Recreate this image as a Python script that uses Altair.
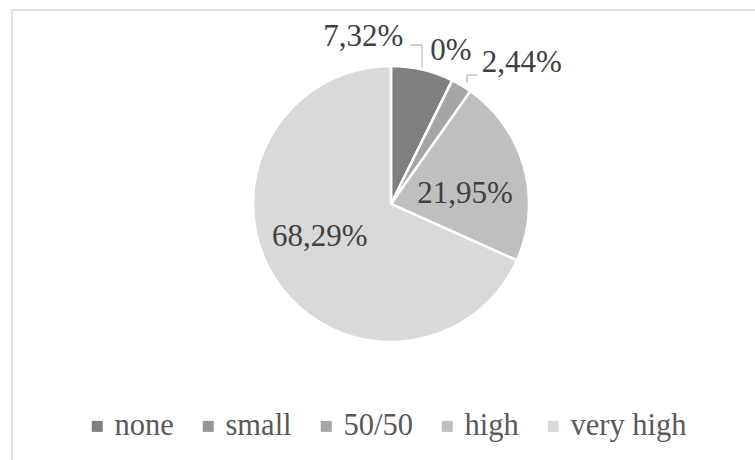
import altair as alt
import pandas as pd

categories = ["none", "small", "50/50", "high", "very high"]
shares = [7.32, 0.0, 2.44, 21.95, 68.29]
labels = ["7,32%", "0%", "2,44%", "21,95%", "68,29%"]
colors = ["#7f7f7f", "#969696", "#a5a5a5", "#bfbfbf", "#d9d9d9"]

df = pd.DataFrame({
    "category": categories,
    "share": shares,
    "label": labels,
    "idx": list(range(len(categories))),
})

total = float(sum(shares))
FONT = "Times New Roman, Liberation Serif, DejaVu Serif, serif"
theta_scale = alt.Scale(domain=[0, total], range=[0, 6.283185307179586])

base = alt.Chart(df)

color = alt.Color(
    "category:N",
    scale=alt.Scale(domain=categories, range=colors),
    legend=alt.Legend(
        orient="none", legendX=55, legendY=411, direction="horizontal",
        columns=5, title=None, symbolType="square", symbolSize=121,
        symbolStrokeWidth=0, labelFont=FONT, labelFontSize=30.5,
        labelColor="#595959", columnPadding=19, labelOffset=2, padding=0,
    ),
)

pie = base.mark_arc(outerRadius=138, stroke="white", strokeWidth=2.5).encode(
    theta=alt.Theta("share:Q", stack=True, scale=theta_scale),
    color=color,
    order=alt.Order("idx:Q"),
)

lab_base = base.transform_window(
    cum="sum(share)", sort=[alt.SortField("idx")], frame=[None, 0]
).transform_calculate(mid="datum.cum - datum.share / 2")

# (category, radius, dx, dy) label placement styles
placements = [
    ("none", 150, -62, -21),
    ("small", 160, -11, -10),
    ("50/50", 160, 49, -3),
    ("high", 80, -3, 11),
    ("very high", 80, -4, -10),
]

text_layers = []
for cat, r, dx, dy in placements:
    text_layers.append(
        lab_base.transform_filter(alt.datum.category == cat)
        .mark_text(radius=r, dx=dx, dy=dy, font=FONT, fontSize=31,
                   color="#404040", align="center", baseline="middle")
        .encode(
            theta=alt.Theta("mid:Q", stack=False, scale=theta_scale),
            text="label:N",
        )
    )

one = base.transform_filter(alt.datum.category == "none")
lead_col = "#a6a6a6"
leaders = [
    one.mark_rule(color=lead_col, strokeWidth=1).encode(
        x=alt.value(383), x2=alt.value(395), y=alt.value(45)),
    one.mark_rule(color=lead_col, strokeWidth=1).encode(
        x=alt.value(395), y=alt.value(45), y2=alt.value(67)),
    one.mark_rule(color=lead_col, strokeWidth=1).encode(
        x=alt.value(440), x2=alt.value(450), y=alt.value(75)),
    one.mark_rule(color=lead_col, strokeWidth=1).encode(
        x=alt.value(440), y=alt.value(75), y2=alt.value(83)),
]

frame = one.mark_rect(fill="white", fillOpacity=0, stroke="#d9d9d9", strokeWidth=1.5).encode(
    x=alt.value(-15), x2=alt.value(760), y=alt.value(10), y2=alt.value(480)
)

chart = alt.layer(frame, pie, *leaders, *text_layers).properties(
    width=728, height=408,
    padding={"left": 27, "top": 0, "right": 0, "bottom": 52},
    autosize=alt.AutoSizeParams(type="none"),
).configure_view(strokeWidth=0)

chart.save("out.html", embed_options={"renderer": "svg", "actions": False})
